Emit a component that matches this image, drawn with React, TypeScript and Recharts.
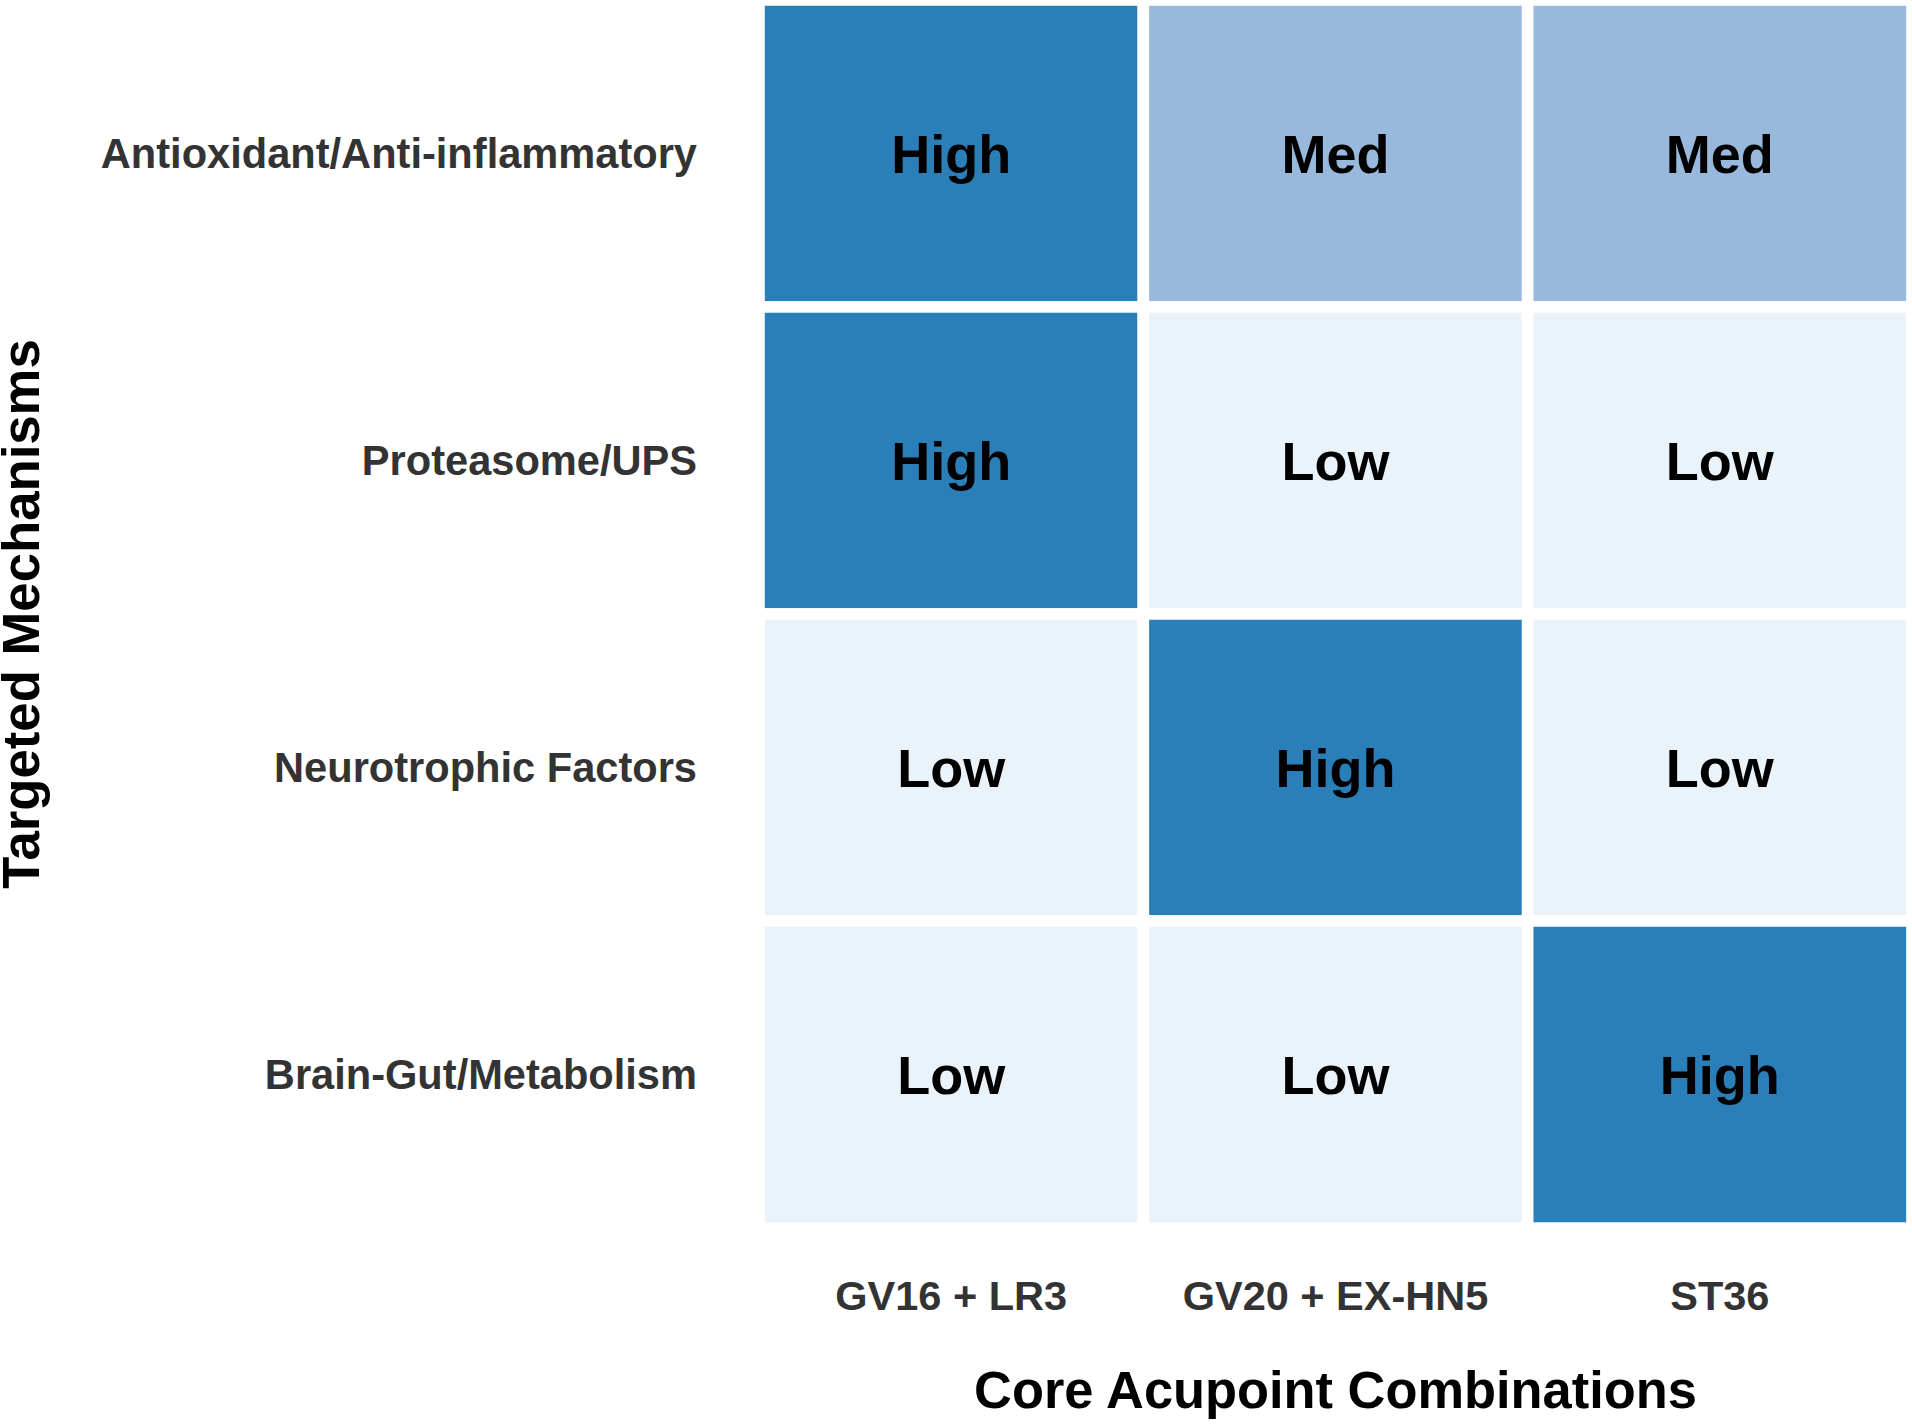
import React from "react";
import { BarChart, Bar, XAxis, YAxis, Cell, LabelList, Label } from "recharts";

const mechanisms = [
  "Antioxidant/Anti-inflammatory",
  "Proteasome/UPS",
  "Neurotrophic Factors",
  "Brain-Gut/Metabolism",
];
const combinations = ["GV16 + LR3", "GV20 + EX-HN5", "ST36"];
const levelsGV16 = ["High", "High", "Low", "Low"];
const levelsGV20 = ["Med", "Low", "High", "Low"];
const levelsST36 = ["Med", "Low", "Low", "High"];
const columnTicks = [0.5, 1.5, 2.5];
const levelColors: Record<string, string> = {
  Low: "#eaf2fa",
  Med: "#98b9db",
  High: "#2a7fb8",
};

const columnLevels = [levelsGV16, levelsGV20, levelsST36];

const data = mechanisms.map((m, i) => ({
  mechanism: m,
  c0: 1,
  c1: 1,
  c2: 1,
  l0: levelsGV16[i],
  l1: levelsGV20[i],
  l2: levelsST36[i],
}));

const FONT = '"Liberation Sans", Arial, Helvetica, sans-serif';

export default function App() {
  return (
    <div style={{ position: "absolute", left: 0, top: 0, fontFamily: FONT }}>
      <BarChart
        width={1912}
        height={1424}
        data={data}
        layout="vertical"
        margin={{ top: 0, right: 0, bottom: 0, left: 0 }}
        barCategoryGap={0}
        barGap={0}
      >
        <XAxis
          type="number"
          domain={[0, 3]}
          ticks={columnTicks}
          interval={0}
          tickFormatter={(v: number) => combinations[Math.floor(v)]}
          axisLine={false}
          tickLine={false}
          tickSize={0}
          tickMargin={53}
          height={196}
          tick={{ fill: "#333333", fontSize: 41.5, fontWeight: "bold", fontFamily: FONT }}
        >
          <Label
            value="Core Acupoint Combinations"
            position="insideBottom"
            offset={16}
            style={{ fill: "#000000", fontSize: 52.4, fontWeight: "bold", fontFamily: FONT }}
          />
        </XAxis>
        <YAxis
          type="category"
          dataKey="mechanism"
          width={759}
          axisLine={false}
          tickLine={false}
          tickSize={0}
          tickMargin={62}
          interval={0}
          tick={{ fill: "#333333", fontSize: 41.6, fontWeight: "bold", fontFamily: FONT }}
        >
          <Label
            value="Targeted Mechanisms"
            angle={-90}
            position="insideLeft"
            offset={20}
            style={{ fill: "#000000", fontSize: 52.7, fontWeight: "bold", fontFamily: FONT, textAnchor: "middle" }}
          />
        </YAxis>
        {[0, 1, 2].map((c) => (
          <Bar
            key={c}
            dataKey={`c${c}`}
            stackId="heat"
            isAnimationActive={false}
            stroke="#ffffff"
            strokeWidth={11.6}
          >
            {data.map((d, i) => (
              <Cell key={i} fill={levelColors[columnLevels[c][i]]} />
            ))}
            <LabelList
              dataKey={`l${c}`}
              position="center"
              style={{ fill: "#000000", fontSize: 54, fontWeight: "bold", fontFamily: FONT }}
            />
          </Bar>
        ))}
      </BarChart>
    </div>
  );
}
